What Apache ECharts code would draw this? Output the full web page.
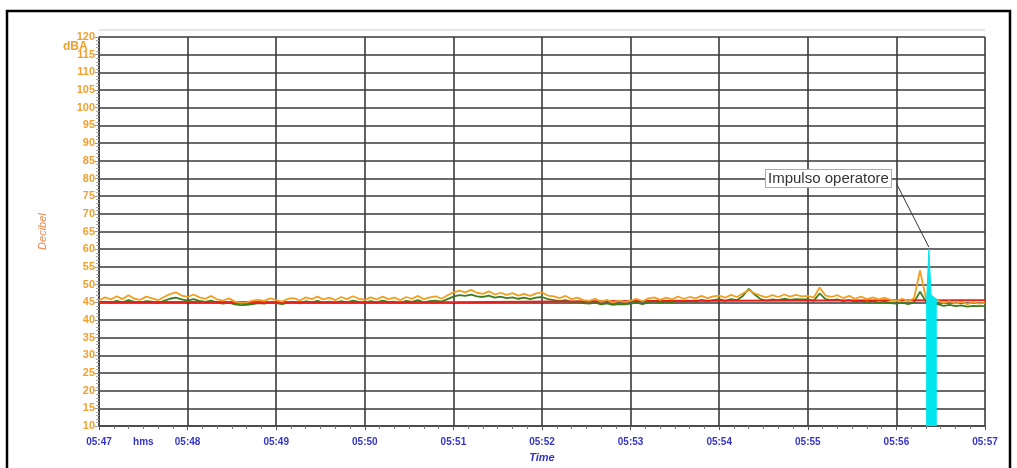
<!DOCTYPE html>
<html><head><meta charset="utf-8">
<script src="https://cdn.jsdelivr.net/npm/echarts@6/dist/echarts.min.js"></script>
<style>html,body{margin:0;padding:0;background:#fff;overflow:hidden}#c{width:1017px;height:468px}</style>
</head><body><div id="c"></div>
<script>
// Time axis: seconds after 05:47:00, sample step 4 s
const STEP = 4;
const xTickLabels = ['05:47','05:48','05:49','05:50','05:51','05:52','05:53','05:54','05:55','05:56','05:57'];
const unitLabel = 'hms';
const unitLabelTime = 30;
const orangeValues = [
 45.5,46.4,45.8,46.7,45.9,47.0,46.0,45.7,46.6,46.1,45.6,46.5,47.3,47.8,46.9,
 46.5,47.2,46.4,46.0,46.8,45.8,45.5,46.1,45.2,44.9,45.0,45.5,45.7,45.4,46.1,
 45.6,45.2,46.0,46.2,45.5,46.4,45.9,46.6,45.8,46.3,45.6,46.5,45.9,46.7,46.0,
 45.7,46.4,45.8,46.6,45.9,46.3,45.6,46.5,46.0,46.8,45.9,46.4,46.7,46.0,47.0,
 47.8,48.3,47.8,48.5,47.7,47.4,48.1,47.2,47.7,47.1,47.6,46.9,47.4,46.8,47.5,
 47.8,46.9,46.7,46.2,46.8,45.9,46.3,45.6,45.4,46.0,45.2,45.7,45.0,45.5,45.1,
 45.4,46.0,45.3,46.1,46.4,45.7,46.3,45.8,46.6,46.0,46.5,46.1,46.8,46.2,46.7,
 46.9,46.3,47.1,46.5,47.5,48.5,47.5,46.9,46.4,47.0,46.5,47.2,46.6,47.1,46.7,
 46.8,46.3,49.2,46.9,46.5,47.0,46.2,46.8,46.0,46.6,45.9,46.4,45.8,46.3,45.7,
 45.4,46.0,45.3,46.2,54.0,46.2,45.0,45.5,44.8,45.3,44.6,45.1,44.5,45.0,44.6,
 44.9
];
const greenValues = [
 44.8,45.2,44.9,45.4,45.0,45.6,45.1,44.9,45.3,45.2,44.8,45.4,46.0,46.3,45.8,
 45.5,45.9,45.4,45.1,45.5,44.9,44.6,44.9,44.4,44.2,44.3,44.5,44.8,44.6,45.0,
 44.8,44.5,44.9,45.1,44.7,45.3,45.0,45.4,44.9,45.2,44.8,45.3,45.0,45.5,45.1,
 44.9,45.3,45.0,45.5,45.1,45.2,44.8,45.4,45.1,45.6,45.0,45.3,45.5,45.2,45.9,
 46.6,47.0,46.8,47.2,46.7,46.5,46.9,46.3,46.6,46.2,46.4,46.0,46.3,45.9,46.3,
 46.5,45.9,45.6,45.3,45.6,45.0,45.2,44.8,44.6,44.9,44.4,44.7,44.3,44.5,44.4,
 44.6,44.9,44.5,45.0,45.3,44.9,45.2,45.0,45.5,45.1,45.4,45.2,45.7,45.3,45.6,
 45.9,45.4,45.9,45.6,46.8,48.8,47.2,45.9,45.5,45.8,45.6,46.0,45.7,45.9,45.8,
 45.8,45.4,47.5,45.9,45.6,45.8,45.3,45.6,45.1,45.4,45.0,45.3,44.9,45.1,44.8,
 44.6,44.9,44.5,45.0,48.0,45.2,44.2,44.5,44.0,44.3,43.9,44.1,43.8,44.0,43.9,
 44.0
];
const redTimes = [0, 240, 360, 480, 600];
const redValues = [45.1, 45.0, 45.4, 45.5, 45.6];
const cyanTimes = [560.5, 560.5, 562, 563.5, 567, 567];
const cyanValues = [10, 46, 60, 47, 46, 10];
const annotText = 'Impulso operatore';
const annotFrom = [540, 78.6];
const annotTo = [562, 60.6];
const annotLabelPos = [494, 80];

const toPairs = (vals) => vals.map((v, i) => [i * STEP, v]);
const zip = (ts, vs) => ts.map((t, i) => [t, vs[i]]);

const chart = echarts.init(document.getElementById('c'), null, {renderer: 'canvas', width: 1017, height: 468});
chart.setOption({
  animation: false,
  backgroundColor: '#fff',
  grid: {left: 99, right: 32, top: 37, bottom: 30, containLabel: false},
  xAxis: {
    type: 'value', min: 0, max: 600, interval: 60,
    name: 'Time', nameLocation: 'middle', nameGap: 22,
    nameTextStyle: {color: '#3535c8', fontStyle: 'italic', fontWeight: 'bold', fontSize: 11, fontFamily: 'Liberation Sans', verticalAlign: 'top'},
    axisLine: {show: true, lineStyle: {color: '#444', width: 1.5}},
    axisTick: {show: true, length: 4, lineStyle: {color: '#555'}},
    minorTick: {show: true, splitNumber: 6, length: 3, lineStyle: {color: '#777'}},
    axisLabel: {color: '#3535c8', fontWeight: 'bold', fontSize: 10, fontFamily: 'Liberation Sans', margin: 11,
      formatter: (v) => xTickLabels[Math.round(v / 60)] || ''},
    splitLine: {show: true, lineStyle: {color: '#3a3a3a', width: 1.6}}
  },
  yAxis: {
    type: 'value', min: 10, max: 120, interval: 5,
    name: 'Decibel', nameLocation: 'middle', nameGap: 51,
    nameTextStyle: {color: '#e8864a', fontStyle: 'italic', fontSize: 11, fontFamily: 'Liberation Sans'},
    axisLine: {show: true, lineStyle: {color: '#444', width: 1.5}},
    axisTick: {show: true, length: 4, lineStyle: {color: '#999'}},
    minorTick: {show: true, splitNumber: 5, length: 3, lineStyle: {color: '#aaa'}},
    axisLabel: {color: '#f0a030', fontWeight: 'bold', fontSize: 11, fontFamily: 'Liberation Sans', margin: 4},
    splitLine: {show: true, lineStyle: {color: '#3a3a3a', width: 1.6}}
  },
  graphic: [
    {type: 'rect', shape: {x: 7, y: 11, width: 1003, height: 520}, style: {fill: 'none', stroke: '#000', lineWidth: 2.5}, z: 100},
    {type: 'line', shape: {x1: 99, y1: 30, x2: 985, y2: 30}, style: {stroke: '#ddd', lineWidth: 1.5}},
    {type: 'text', left: 63, top: 41, style: {text: 'dBA', fill: '#f0a030', font: 'bold 12px "Liberation Sans"'}}
  ],
  series: [
    {type: 'line', name: 'green', data: toPairs(greenValues), showSymbol: false, symbol: 'none',
      lineStyle: {color: '#3f7d1c', width: 1.8}, z: 2},
    {type: 'line', name: 'red', data: zip(redTimes, redValues), showSymbol: false, symbol: 'none',
      lineStyle: {color: '#e8201a', width: 2}, z: 3},
    {type: 'line', name: 'orange', data: toPairs(orangeValues), showSymbol: false, symbol: 'none',
      lineStyle: {color: '#f0a020', width: 1.8}, z: 4},
    {type: 'line', name: 'cyan', data: zip(cyanTimes, cyanValues), showSymbol: false, symbol: 'none',
      lineStyle: {color: '#00e5ee', width: 1}, areaStyle: {color: '#00e5ee', opacity: 1, origin: 'start'}, z: 5,
      markLine: {
        silent: true, symbol: ['none', 'arrow'], symbolSize: [0, 10],
        lineStyle: {color: '#333', width: 1, type: 'solid'}, label: {show: false},
        data: [[{coord: annotFrom}, {coord: annotTo}]]
      },
      markPoint: {
        silent: true, symbol: 'rect', symbolSize: 0,
        label: {show: true, formatter: (p) => p.value, color: '#333', fontSize: 15, fontFamily: 'Liberation Sans',
          backgroundColor: '#fff', borderColor: '#aaa', borderWidth: 1, padding: [1, 2]},
        data: [
          {coord: annotLabelPos, value: annotText},
          {coord: [unitLabelTime, 10], value: unitLabel,
           label: {color: '#3535c8', fontWeight: 'bold', fontSize: 10, backgroundColor: 'transparent', borderWidth: 0,
             padding: 0, offset: [0, 16], position: 'inside'}}
        ]
      }
    }
  ]
});
</script></body></html>
